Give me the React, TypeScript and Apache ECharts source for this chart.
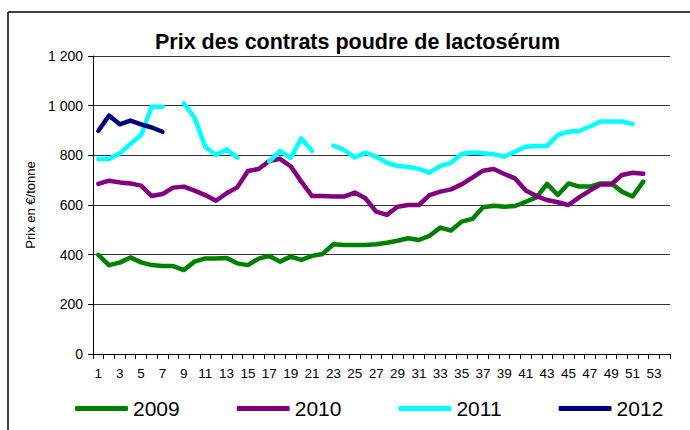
import React, { useEffect, useRef } from "react";
import * as echarts from "echarts";

const weeks: string[] = Array.from({ length: 54 }, (_, i) => String(i + 1));

const s2009: (number | null)[] = [
  399, 358, 368, 389, 369, 358, 354, 354, 338, 372, 385, 385, 387, 365, 358, 384, 395, 372, 392, 379,
  395, 403, 442, 439, 439, 439, 442, 448, 456, 466, 459, 476, 509, 497, 533, 544, 591, 597, 593, 596,
  613, 631, 685, 640, 687, 674, 674, 687, 687, 654, 634, 694,
];

const s2010: (number | null)[] = [
  685, 698, 691, 687, 678, 636, 644, 670, 674, 658, 640, 617, 647, 671, 737, 745, 777, 786, 756, 694,
  636, 636, 634, 634, 650, 627, 573, 560, 593, 600, 600, 640, 654, 663, 683, 710, 738, 745, 725, 707,
  658, 636, 620, 611, 600, 631, 658, 683, 683, 721, 730, 726,
];

const s2011: (number | null)[] = [
  785, 785, 808, 846, 882, 996, 996, null, 1010, 952, 835, 801, 824, 791, null, null, 775, 818, 790, 868,
  818, null, 839, 822, 791, 811, 795, 770, 757, 754, 745, 730, 757, 770, 805, 811, 808, 804, 795, 815,
  835, 838, 838, 882, 895, 898, 916, 936, 936, 936, 926,
];

const s2012: (number | null)[] = [899, 960, 925, 940, 925, 912, 895];

const seriesNames: string[] = ["2009", "2010", "2011", "2012"];
const seriesColors: string[] = ["#008000", "#800080", "#00FFFF", "#000080"];
const seriesData = [s2009, s2010, s2011, s2012];

const titleText = "Prix des contrats poudre de lactosérum";
const yName = "Prix en €/tonne";

const FONT = "'Liberation Sans', Arial, Helvetica, sans-serif";

export default function App() {
  const ref = useRef<HTMLDivElement>(null);

  useEffect(() => {
    document.body.style.margin = "0";
    if (!ref.current) return;
    const chart = echarts.init(ref.current, undefined, { renderer: "svg" });
    chart.setOption({
      animation: false,
      backgroundColor: "#ffffff",
      textStyle: { fontFamily: FONT },
      title: {
        text: titleText,
        left: 150,
        top: 26,
        textStyle: { fontFamily: FONT, fontSize: 21.5, fontWeight: "bold", color: "#000" },
      },
      graphic: [
        { type: "line", shape: { x1: 8, y1: 12, x2: 700, y2: 12 }, style: { stroke: "#000", lineWidth: 1.5 } },
        { type: "line", shape: { x1: 8, y1: 12, x2: 8, y2: 440 }, style: { stroke: "#000", lineWidth: 1.5 } },
      ],
      legend: {
        data: seriesNames,
        left: 70,
        top: 393,
        itemWidth: 53,
        itemHeight: 5,
        itemGap: 57,
        icon: "roundRect",
        textStyle: { fontFamily: FONT, fontSize: 21, color: "#000" },
      },
      grid: { left: 93, right: 20, top: 56, bottom: 76, containLabel: false },
      xAxis: {
        type: "category",
        data: weeks,
        boundaryGap: true,
        axisLine: { lineStyle: { color: "#000", width: 1 } },
        axisTick: { show: true, interval: 0, length: 5, lineStyle: { color: "#000" } },
        axisLabel: { interval: 1, margin: 12, fontSize: 13.5, color: "#000", fontFamily: FONT },
        splitLine: { show: false },
      },
      yAxis: {
        type: "value",
        min: 0,
        max: 1200,
        interval: 200,
        name: yName,
        nameLocation: "middle",
        nameRotate: 90,
        nameGap: 54,
        nameTextStyle: { fontFamily: FONT, fontSize: 13, color: "#000" },
        axisLine: { show: true, lineStyle: { color: "#000", width: 1 } },
        axisTick: { show: true, length: 5, lineStyle: { color: "#000" } },
        axisLabel: {
          margin: 10,
          fontSize: 14,
          color: "#000",
          fontFamily: FONT,
          formatter: (v: number) => String(v).replace(/\B(?=(\d{3})+(?!\d))/g, " "),
        },
        splitLine: { show: true, lineStyle: { color: "#333", width: 1 } },
      },
      series: seriesNames.map((name, i) => ({
        name,
        type: "line",
        data: seriesData[i],
        symbol: "none",
        showSymbol: false,
        connectNulls: false,
        color: seriesColors[i],
        lineStyle: { color: seriesColors[i], width: 4.5, cap: "round", join: "round" },
        z: 2 + i,
      })),
    });
    return () => chart.dispose();
  }, []);

  return <div ref={ref} style={{ width: 690, height: 430 }} />;
}
